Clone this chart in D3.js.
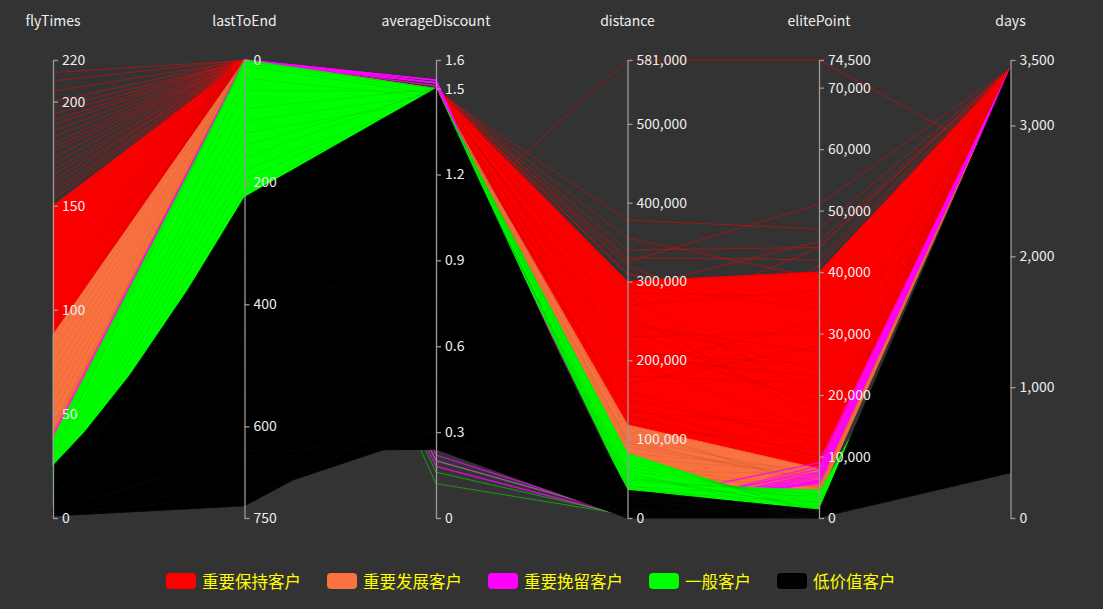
<!DOCTYPE html>
<html><head><meta charset="utf-8">
<script src="https://cdn.jsdelivr.net/npm/d3@7"></script>
<style>body{margin:0;background:#333;} svg{display:block;}</style>
</head><body>
<svg id="chart" width="1103" height="609"></svg>
<script>
// ---------------- DATA ----------------
const dimensions = ["flyTimes", "lastToEnd", "averageDiscount", "distance", "elitePoint", "days"];
const dimMax = [220, 750, 1.6, 581000, 74500, 3500];
const flyTimesTicks = [0, 50, 100, 150, 200, 220];
const lastToEndTicks = [0, 200, 400, 600, 750];
const discountTicks = [0, 0.3, 0.6, 0.9, 1.2, 1.5, 1.6];
const distanceTicks = [0, 100000, 200000, 300000, 400000, 500000, 581000];
const eliteTicks = [0, 10000, 20000, 30000, 40000, 50000, 60000, 70000, 74500];
const daysTicks = [0, 1000, 2000, 3000, 3500];

const groupNames = ["重要保持客户", "重要发展客户", "重要挽留客户", "一般客户", "低价值客户"];
const groupColors = ["#ff0000", "#fb7241", "#ff00ff", "#00ff00", "#000000"];

// records: [flyTimes, lastToEnd, averageDiscount, distance, elitePoint, days]
// "Main" arrays: dense bands (filled between their lines) ; "Sparse" arrays: single lines
const keepMain = [
  [88, 2, 1.49, 100000, 7500, 3437], [90, 0, 1.50, 130000, 9000, 3437],
  [92, 1, 1.48, 160000, 12000, 3437], [95, 3, 1.50, 115000, 8000, 3437],
  [97, 1, 1.49, 200000, 14000, 3437], [100, 0, 1.47, 140000, 10000, 3437],
  [102, 2, 1.50, 240000, 18000, 3437], [105, 1, 1.49, 180000, 22000, 3437],
  [107, 0, 1.50, 260000, 16000, 3437], [110, 2, 1.48, 120000, 11000, 3437],
  [112, 1, 1.50, 210000, 25000, 3437], [115, 0, 1.49, 280000, 20000, 3437],
  [117, 3, 1.50, 170000, 28000, 3437], [120, 1, 1.48, 230000, 30000, 3437],
  [122, 0, 1.50, 295000, 34000, 3437], [125, 2, 1.49, 150000, 13000, 3437],
  [127, 1, 1.50, 250000, 24000, 3437], [130, 0, 1.47, 190000, 32000, 3437],
  [133, 2, 1.50, 270000, 37000, 3437], [136, 1, 1.49, 220000, 19000, 3437],
  [139, 0, 1.50, 300000, 40000, 3437], [142, 1, 1.48, 135000, 15000, 3437],
  [145, 2, 1.50, 245000, 27000, 3437], [148, 0, 1.49, 285000, 36000, 3437],
  [150, 1, 1.50, 205000, 23000, 3437]
];
const keepSparse = [
  [214, 1, 1.49, 260000, 30000, 3437], [210, 0, 1.50, 180000, 25000, 3437],
  [205, 1, 1.50, 230000, 34000, 3437], [200, 0, 1.49, 140000, 18000, 3437],
  [197, 2, 1.48, 300000, 40000, 3437], [194, 1, 1.50, 220000, 33000, 3437],
  [191, 0, 1.49, 270000, 22000, 3437], [189, 0, 1.49, 150000, 20000, 3437],
  [186, 1, 1.50, 255000, 38000, 3437], [183, 1, 1.50, 330000, 42000, 3437],
  [180, 0, 1.48, 200000, 28000, 3437], [178, 2, 1.49, 110000, 12000, 3437],
  [176, 2, 1.48, 120000, 15000, 3437], [173, 0, 1.49, 320000, 29000, 3437],
  [170, 0, 1.50, 280000, 36000, 3437], [167, 1, 1.50, 240000, 44000, 3437],
  [165, 1, 1.49, 378000, 47000, 3437], [162, 2, 1.50, 190000, 41000, 3437],
  [160, 0, 1.49, 165000, 21000, 3437], [157, 1, 1.50, 310000, 35000, 3437],
  [155, 0, 1.49, 265000, 31000, 3437], [153, 2, 1.50, 175000, 17000, 3437],
  [150, 1, 0.99, 581000, 74500, 2700], [140, 1, 1.50, 340000, 44000, 3437],
  [130, 2, 1.50, 310000, 26000, 3437], [100, 0, 1.49, 290000, 45000, 3437],
  [118, 1, 1.50, 355000, 39000, 3437], [108, 0, 1.50, 325000, 51000, 3437]
];
const developMain = [
  [88, 1, 1.49, 118000, 8000, 3437], [85, 3, 1.50, 100000, 7000, 3437],
  [80, 0, 1.48, 90000, 6500, 3437], [75, 5, 1.50, 110000, 5500, 3437],
  [70, 2, 1.49, 75000, 7500, 3437], [65, 4, 1.50, 95000, 6000, 3437],
  [60, 1, 1.47, 65000, 5000, 3437], [55, 6, 1.50, 82000, 7800, 3437],
  [50, 2, 1.49, 115000, 4800, 3437], [45, 3, 1.50, 55000, 5200, 3437],
  [43, 2, 1.50, 50000, 3500, 3437], [42, 4, 1.49, 62000, 4200, 3437],
  [40, 5, 1.48, 98000, 5200, 3437], [38, 0, 1.50, 60000, 7200, 3437]
];
const developSparse = [];
const retainMain = [];
const retainSparse = [
  [40, 1, 1.52, 20000, 9000, 3437], [38, 0, 1.53, 12000, 7500, 3437],
  [36, 2, 1.52, 8000, 6000, 3437], [33, 1, 1.51, 15000, 5600, 3437],
  [30, 3, 1.53, 5000, 8000, 3437], [28, 0, 1.52, 18000, 5800, 3437],
  [24, 0, 1.53, 10000, 6500, 3437], [22, 2, 1.52, 6000, 7000, 3437],
  [18, 0, 1.53, 14000, 6200, 3437], [16, 2, 1.52, 4000, 8500, 3437],
  [18, 4, 0.22, 3000, 6800, 3437], [22, 6, 0.18, 2000, 5900, 3437],
  [14, 2, 0.24, 5000, 7300, 3437], [12, 3, 0.20, 4000, 6100, 3437]
];
const generalMain = [
  [38, 5, 1.49, 82000, 500, 3000], [36, 2, 1.50, 75000, 1200, 2500],
  [34, 10, 1.48, 70000, 2000, 2000], [30, 0, 1.50, 60000, 3000, 1500],
  [32, 30, 1.47, 50000, 4000, 2800], [28, 50, 1.49, 45000, 4500, 1200],
  [26, 80, 1.50, 40000, 3500, 900], [24, 100, 1.48, 35000, 2500, 2200],
  [22, 120, 1.46, 55000, 1500, 700], [20, 140, 1.49, 38000, 500, 1800],
  [18, 160, 1.50, 65000, 2500, 500], [15, 180, 1.47, 48000, 3800, 1000],
  [12, 195, 1.48, 42000, 200, 344], [10, 215, 1.49, 78000, 800, 600],
  [8, 230, 1.50, 52000, 1800, 400], [6, 225, 1.46, 58000, 0, 1300]
];
const generalSparse = [
  [20, 5, 0.28, 8000, 300, 800], [15, 10, 0.20, 5000, 200, 600],
  [12, 2, 0.12, 4000, 100, 500], [18, 15, 0.25, 10000, 400, 900],
  [10, 8, 0.16, 3000, 150, 400], [25, 20, 0.30, 12000, 600, 1000]
];
const lowMain = [
  [25, 330, 1.45, 30000, 1200, 3437], [3, 225, 1.50, 21000, 800, 3000],
  [1, 730, 0.40, 2000, 100, 344], [2, 714, 0.30, 1000, 50, 400],
  [3, 640, 0.24, 0, 0, 500],
  [20, 400, 1.20, 25000, 1000, 2500], [15, 300, 0.90, 15000, 600, 2000],
  [10, 500, 0.60, 10000, 400, 1500], [8, 250, 1.35, 35000, 1300, 3200],
  [5, 650, 0.30, 5000, 200, 800], [12, 450, 1.00, 20000, 900, 2800],
  [18, 350, 0.75, 28000, 1100, 1200], [6, 550, 1.10, 12000, 500, 2200],
  [22, 280, 1.30, 33000, 700, 3437], [4, 700, 0.50, 8000, 300, 700],
  [14, 240, 1.48, 26000, 1000, 3437]
];
const lowSparse = [];

const groupsMain = [keepMain, developMain, retainMain, generalMain, lowMain];
const groupsSparse = [keepSparse, developSparse, retainSparse, generalSparse, lowSparse];
const allTicks = [flyTimesTicks, lastToEndTicks, discountTicks, distanceTicks, eliteTicks, daysTicks];

// ---------------- CHART ----------------
const svg = d3.select("#chart");
const W = 1103, H = 609;
svg.append("rect").attr("width", W).attr("height", H).attr("fill", "#333333");
const FONT = "'Noto Sans CJK SC','Noto Sans',sans-serif";
const plotTop = 60, plotBottom = 518;

const x = d3.scalePoint().domain(dimensions).range([53, 1010.5]);
const y = dimensions.map((d, i) => d3.scaleLinear()
  .domain([0, dimMax[i]])
  .range(d === "lastToEnd" ? [plotTop, plotBottom] : [plotBottom, plotTop]));

const pts = r => dimensions.map((d, i) => [x(d), y[i](r[i])]);
const line = d3.line();

// union of a group's line segments between two neighbouring axes
function envelope(records, i) {
  const x0 = x(dimensions[i]), x1 = x(dimensions[i + 1]);
  const ends = records.map(r => [y[i](r[i]), y[i + 1](r[i + 1])]);
  const N = 48, upper = [], lower = [];
  for (let k = 0; k <= N; k++) {
    const t = k / N, xs = x0 + (x1 - x0) * t;
    let mn = Infinity, mx = -Infinity;
    ends.forEach(([a, b]) => { const v = a + (b - a) * t; if (v < mn) mn = v; if (v > mx) mx = v; });
    upper.push([xs, mn]); lower.push([xs, mx]);
  }
  return upper.concat(lower.reverse());
}

const linesG = svg.append("g");
groupNames.forEach((name, gi) => {
  const g = linesG.append("g");
  const col = groupColors[gi];
  const main = groupsMain[gi];
  if (main.length) {
    for (let i = 0; i < dimensions.length - 1; i++) {
      g.append("path").attr("d", line(envelope(main, i)) + "Z")
        .attr("fill", col).attr("stroke", col).attr("stroke-width", 1).attr("stroke-linejoin", "round");
    }
  }
  g.selectAll(".m").data(main).enter().append("path")
    .attr("d", r => line(pts(r))).attr("fill", "none")
    .attr("stroke", gi === 4 ? "#151515" : d3.color(col).darker(0.9))
    .attr("stroke-opacity", gi === 0 ? 0.45 : 0.3).attr("stroke-width", 0.8);
  g.selectAll(".s").data(groupsSparse[gi]).enter().append("path")
    .attr("d", r => line(pts(r))).attr("fill", "none")
    .attr("stroke", col)
    .attr("stroke-opacity", gi === 2 ? 0.8 : 0.5)
    .attr("stroke-width", gi === 2 ? 1.3 : 1);
});

// axes on top of the lines
const axesG = svg.append("g");
dimensions.forEach((d, i) => {
  const fmt = i === 2 ? d3.format("") : d3.format(",");
  const ax = d3.axisRight(y[i]).tickValues(allTicks[i]).tickSize(5).tickSizeOuter(0)
    .tickPadding(4).tickFormat(fmt);
  const g = axesG.append("g").attr("transform", `translate(${x(d)},0)`).call(ax);
  g.select(".domain").attr("stroke", "#9a9a9a").attr("stroke-width", 1.3);
  g.selectAll(".tick line").attr("stroke", "#9a9a9a").attr("stroke-width", 1.3);
  g.selectAll(".tick text").attr("fill", "#eeeeee").attr("font-size", 14)
    .attr("font-family", FONT);
  axesG.append("text").attr("x", x(d)).attr("y", 22).attr("text-anchor", "middle")
    .attr("dominant-baseline", "middle").attr("fill", "#eeeeee").attr("font-size", 14)
    .attr("font-family", FONT).text(d);
});

const legendG = svg.append("g");
let cx = 166;
groupNames.forEach((name, gi) => {
  legendG.append("rect").attr("x", cx).attr("y", 573).attr("width", 30).attr("height", 16)
    .attr("rx", 4).attr("fill", groupColors[gi]);
  const t = legendG.append("text").attr("x", cx + 36).attr("y", 581)
    .attr("dominant-baseline", "central").attr("fill", "#ffff00")
    .attr("font-size", 16.5).attr("font-family", FONT).text(name);
  cx += 36 + t.node().getComputedTextLength() + 26;
});
</script>
</body></html>
